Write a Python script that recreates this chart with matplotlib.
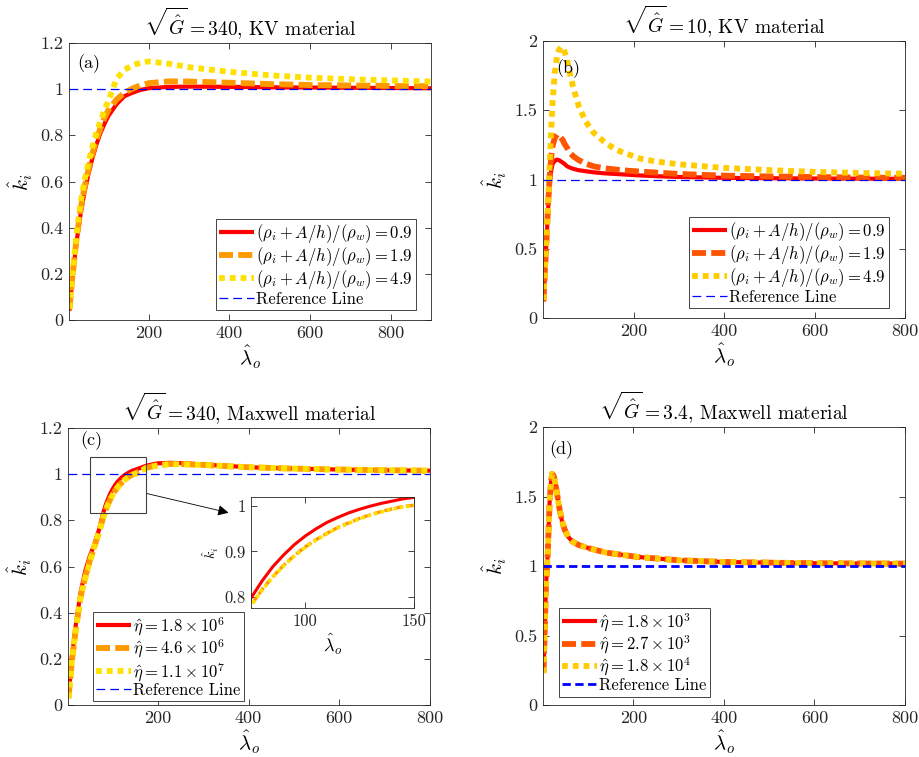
import matplotlib
matplotlib.use("Agg")
import matplotlib.pyplot as plt
from matplotlib.patches import Rectangle
from matplotlib.ticker import FuncFormatter

plt.rcParams['font.family'] = ['serif']
plt.rcParams['font.serif'] = ['cmr10', 'DejaVu Serif']
plt.rcParams['mathtext.fontset'] = 'cm'
plt.rcParams['axes.formatter.use_mathtext'] = True
plt.rcParams['axes.unicode_minus'] = False

# ---------------- Data ----------------
# Panel (a): sqrt(G)=340, KV material
a_x = [3, 10, 20, 30, 40, 50, 60, 70, 80, 90, 100, 120, 140, 160, 180, 200, 250, 300, 400, 500, 600, 700, 800, 900]
a_red = [0.04, 0.17, 0.33, 0.45, 0.55, 0.63, 0.70, 0.76, 0.81, 0.85, 0.885, 0.935, 0.97, 0.985, 0.997, 1.004, 1.01, 1.011, 1.01, 1.008, 1.007, 1.006, 1.005, 1.004]
a_orange = [0.045, 0.18, 0.34, 0.47, 0.57, 0.65, 0.72, 0.78, 0.83, 0.875, 0.91, 0.955, 0.985, 1.003, 1.017, 1.026, 1.034, 1.033, 1.028, 1.022, 1.018, 1.016, 1.014, 1.013]
a_yellow = [0.05, 0.19, 0.36, 0.50, 0.60, 0.68, 0.75, 0.81, 0.86, 0.91, 0.95, 1.045, 1.085, 1.103, 1.115, 1.12, 1.11, 1.095, 1.075, 1.06, 1.05, 1.043, 1.038, 1.033]
a_labels = [r'$(\rho_i+A/h)/(\rho_w)=0.9$', r'$(\rho_i+A/h)/(\rho_w)=1.9$', r'$(\rho_i+A/h)/(\rho_w)=4.9$']

# Panel (b): sqrt(G)=10, KV material
b_x = [1, 4, 8, 11, 14, 16, 18.5, 21, 26, 31, 35, 40, 43.5, 47, 53, 60, 68, 79, 94, 112, 134, 160, 190, 216, 250, 300, 400, 500, 600, 700, 800]
b_red = [0.12, 0.33, 0.58, 0.77, 0.93, 1.01, 1.07, 1.11, 1.135, 1.144, 1.14, 1.13, 1.122, 1.114, 1.096, 1.085, 1.076, 1.067, 1.06, 1.052, 1.045, 1.04, 1.034, 1.029, 1.024, 1.018, 1.012, 1.009, 1.007, 1.006, 1.005]
b_orange = [0.12, 0.33, 0.58, 0.80, 0.98, 1.08, 1.17, 1.24, 1.30, 1.325, 1.32, 1.30, 1.285, 1.26, 1.23, 1.19, 1.165, 1.14, 1.115, 1.095, 1.082, 1.072, 1.063, 1.057, 1.05, 1.04, 1.028, 1.022, 1.018, 1.014, 1.012]
b_yellow = [0.13, 0.33, 0.58, 0.82, 1.05, 1.20, 1.38, 1.55, 1.77, 1.89, 1.935, 1.955, 1.957, 1.93, 1.865, 1.757, 1.65, 1.53, 1.42, 1.337, 1.276, 1.216, 1.18, 1.15, 1.13, 1.11, 1.084, 1.068, 1.055, 1.047, 1.042]

# Panel (c): sqrt(G)=340, Maxwell material
c_x = [3, 10, 20, 30, 40, 50, 60, 70, 75, 80, 85, 90, 95, 100, 105, 110, 115, 120, 125, 130, 135, 140, 145, 150,
       175, 200, 225, 250, 300, 400, 500, 600, 700, 800]
c_red = [0.03, 0.20, 0.36, 0.49, 0.58, 0.645, 0.695, 0.757, 0.797, 0.834, 0.866, 0.892, 0.915, 0.934, 0.950, 0.964, 0.975, 0.985, 0.993, 1.000, 1.006, 1.011, 1.016, 1.019,
         1.037, 1.047, 1.049, 1.048, 1.042, 1.03, 1.024, 1.02, 1.017, 1.015]
c_orange = [0.03, 0.18, 0.34, 0.47, 0.555, 0.625, 0.686, 0.746, 0.781, 0.815, 0.844, 0.869, 0.891, 0.910, 0.926, 0.940, 0.953, 0.963, 0.973, 0.981, 0.988, 0.994, 0.999, 1.002,
            1.028, 1.039, 1.044, 1.044, 1.04, 1.03, 1.024, 1.02, 1.017, 1.015]
c_yellow = [0.03, 0.18, 0.34, 0.47, 0.55, 0.62, 0.685, 0.745, 0.780, 0.814, 0.843, 0.868, 0.890, 0.909, 0.925, 0.939, 0.952, 0.962, 0.972, 0.980, 0.987, 0.993, 0.998, 1.001,
            1.027, 1.038, 1.043, 1.043, 1.04, 1.03, 1.024, 1.02, 1.017, 1.015]
c_labels = [r'$\hat{\eta}=1.8\times10^{6}$', r'$\hat{\eta}=4.6\times10^{6}$', r'$\hat{\eta}=1.1\times10^{7}$']

# Panel (d): sqrt(G)=3.4, Maxwell material
d_x = [1.5, 4, 7, 11, 15, 18, 20.7, 24, 28, 33, 37, 42, 48, 56, 66, 80, 103, 140, 207, 300, 400, 500, 600, 700, 800]
d_red = [0.23, 0.5, 0.85, 1.09, 1.45, 1.6, 1.663, 1.65, 1.59, 1.49, 1.41, 1.33, 1.265, 1.21, 1.175, 1.15, 1.127, 1.096, 1.066, 1.041, 1.029, 1.024, 1.02, 1.018, 1.017]
d_orange = [0.23, 0.5, 0.85, 1.09, 1.45, 1.6, 1.663, 1.65, 1.59, 1.49, 1.41, 1.33, 1.265, 1.21, 1.175, 1.15, 1.127, 1.096, 1.066, 1.041, 1.029, 1.024, 1.02, 1.018, 1.017]
d_yellow = [0.23, 0.5, 0.85, 1.09, 1.45, 1.6, 1.663, 1.65, 1.59, 1.49, 1.41, 1.33, 1.265, 1.21, 1.175, 1.15, 1.127, 1.096, 1.066, 1.041, 1.029, 1.024, 1.02, 1.018, 1.017]
d_labels = [r'$\hat{\eta}=1.8\times10^{3}$', r'$\hat{\eta}=2.7\times10^{3}$', r'$\hat{\eta}=1.8\times10^{4}$']

ref_label = 'Reference Line'
titles = [r'$\sqrt{\hat{G}}=340$, KV material', r'$\sqrt{\hat{G}}=10$, KV material',
          r'$\sqrt{\hat{G}}=340$, Maxwell material', r'$\sqrt{\hat{G}}=3.4$, Maxwell material']
panel_tags = ['(a)', '(b)', '(c)', '(d)']

# ---------------- Styling ----------------
W, H = 919, 757
fig = plt.figure(figsize=(W / 100, H / 100), dpi=100)

def fbox(l, t, r, b):
    return [l / W, 1 - b / H, (r - l) / W, (b - t) / H]

AX = '#262626'
RED = '#FF0000'
ORANGE1 = '#FF9900'
YELLOW1 = '#FFE100'
ORANGE2 = '#FF5500'
YELLOW2 = '#FFCC00'
BLUE = '#0000FF'

fmt = FuncFormatter(lambda v, p: ('%g' % round(v, 6)))

def style_ax(ax, fs=13):
    for s in ax.spines.values():
        s.set_color(AX)
        s.set_linewidth(0.6)
    ax.tick_params(direction='in', top=True, right=True, length=4, width=0.6,
                   colors=AX, labelsize=fs, pad=4)
    ax.yaxis.set_major_formatter(fmt)
    ax.xaxis.set_major_formatter(fmt)

def draw_curves(ax, x, r, o, y, labels, oc, yc):
    ax.plot(x, r, color=RED, lw=3.0, label=labels[0], solid_capstyle='butt')
    ax.plot(x, o, color=oc, lw=4.2, ls=(0, (2.4, 0.9)), label=labels[1], dash_capstyle='butt')
    ax.plot(x, y, color=yc, lw=4.2, ls=(0, (1.0, 0.85)), label=labels[2], dash_capstyle='butt')

def add_legend(ax, l, t):
    leg = ax.legend(loc='upper left', bbox_to_anchor=(l / W, 1 - t / H), bbox_transform=fig.transFigure,
                    borderaxespad=0, fontsize=12, handlelength=2.1, handletextpad=0.1,
                    labelspacing=0.0, borderpad=0.2, fancybox=False, framealpha=1,
                    edgecolor=AX)
    leg.get_frame().set_linewidth(0.6)
    return leg

boxes = [fbox(69, 43, 431, 320), fbox(543, 41, 905, 318), fbox(68, 428, 430, 705), fbox(543, 427, 905, 705)]
axs = [fig.add_axes(b) for b in boxes]

# (a)
ax = axs[0]
draw_curves(ax, a_x, a_red, a_orange, a_yellow, a_labels, ORANGE1, YELLOW1)
ax.axhline(1, color=BLUE, lw=0.9, ls=(0, (7, 4)), label=ref_label)
ax.set_xlim(a_x[0] - 1, 900)
ax.set_ylim(0, 1.2)
ax.set_yticks([0, 0.2, 0.4, 0.6, 0.8, 1.0, 1.2])
ax.set_xticks([200, 400, 600, 800])
add_legend(ax, 216, 219)

# (b)
ax = axs[1]
draw_curves(ax, b_x, b_red, b_orange, b_yellow, a_labels, ORANGE2, YELLOW2)
ax.axhline(1, color=BLUE, lw=0.9, ls=(0, (7, 4)), label=ref_label)
ax.set_xlim(b_x[0] - 1, 800)
ax.set_ylim(0, 2)
ax.set_yticks([0, 0.5, 1, 1.5, 2])
ax.set_xticks([200, 400, 600, 800])
add_legend(ax, 689, 217)

# (c)
ax = axs[2]
draw_curves(ax, c_x, c_red, c_orange, c_yellow, c_labels, ORANGE1, YELLOW1)
ax.axhline(1, color=BLUE, lw=0.9, ls=(0, (7, 4)), label=ref_label)
ax.set_xlim(c_x[0] - 1, 800)
ax.set_ylim(0, 1.2)
ax.set_yticks([0, 0.2, 0.4, 0.6, 0.8, 1.0, 1.2])
ax.set_xticks([200, 400, 600, 800])
add_legend(ax, 93, 612)
ax.add_patch(Rectangle((51.5, 0.832), 122.5, 0.244, fill=False, edgecolor='#404040', lw=0.8, zorder=5))
ax.annotate('', xy=(356, 0.833), xytext=(176, 0.916),
            arrowprops=dict(arrowstyle='-|>', color='k', lw=0.6, mutation_scale=16, shrinkA=0, shrinkB=0))

# (d)
ax = axs[3]
draw_curves(ax, d_x, d_red, d_orange, d_yellow, d_labels, ORANGE2, YELLOW2)
ax.axhline(1, color=BLUE, lw=2.0, ls=(0, (3, 1.6)), label=ref_label)
ax.set_xlim(d_x[0] - 1, 800)
ax.set_ylim(0, 2)
ax.set_yticks([0, 0.5, 1, 1.5, 2])
ax.set_xticks([200, 400, 600, 800])
add_legend(ax, 559, 608)

tag_pos = [(0.022, 0.925), (0.036, 0.90), (0.033, 0.955), (0.017, 0.92)]
for ax, t, tp, tl in zip(axs, titles, tag_pos, panel_tags):
    style_ax(ax)
    ax.set_title(t, fontsize=14, pad=6, color='k')
    ax.set_xlabel(r'$\hat{\lambda}_o$', fontsize=15, labelpad=2)
    ax.set_ylabel(r'$\hat{k}_i$', fontsize=15, labelpad=4)
    ax.text(tp[0], tp[1], tl, transform=ax.transAxes, fontsize=13, va='center', ha='left')

# Inset
ins = fig.add_axes(fbox(251, 497, 414, 608))
ins.plot(c_x, c_red, color=RED, lw=2.2)
ins.plot(c_x, c_orange, color=ORANGE1, lw=2.4, ls=(0, (2.4, 0.9)))
ins.plot(c_x, c_yellow, color=YELLOW1, lw=2.6, ls=(0, (1.0, 0.85)))
ins.set_xlim(75, 150)
ins.set_ylim(0.775, 1.02)
ins.set_xticks([100, 150])
ins.set_yticks([0.8, 0.9, 1.0])
style_ax(ins, fs=12)
ins.set_xlabel(r'$\hat{\lambda}_o$', fontsize=13, labelpad=2)
ins.set_ylabel(r'$\hat{k}_i$', fontsize=10, labelpad=2)

fig.savefig('out.png', dpi=100)
